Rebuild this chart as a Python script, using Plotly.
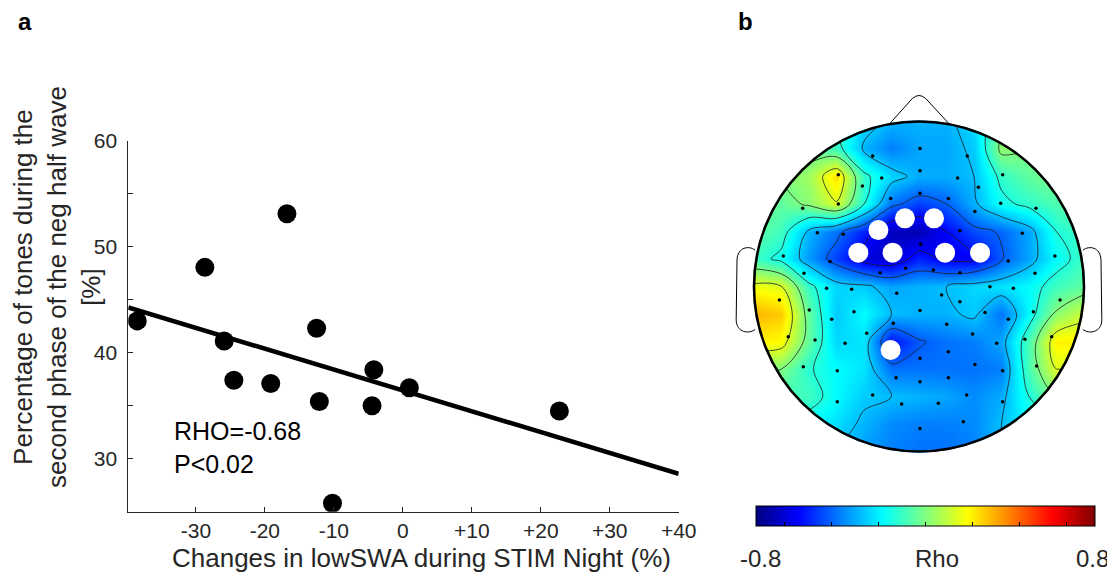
import numpy as np
import plotly.graph_objects as go

# ---------------- data: panel a ----------------
lowswa_change = [-38.5, -28.7, -16.8, -25.9, -24.5, -19.15, -12.5, -12.1, -10.2, -4.2, -4.46, 0.95, 22.7]
tones_pct = [43.0, 48.05, 53.1, 41.1, 37.4, 37.1, 42.3, 35.4, 25.8, 38.4, 35.0, 36.7, 34.5]
x_tickvals = [-30, -20, -10, 0, 10, 20, 30, 40]
x_ticktext = ["-30", "-20", "-10", "0", "+10", "+20", "+30", "+40"]
y_tickvals = [30, 35, 40, 45, 50, 55, 60]
y_ticktext = ["30", "", "40", "", "50", "", "60"]

# ---------------- data: panel b (head units, radius 100) ----------------
electrode_x = [0.6, -28.1, 29.3, 0.6, -48.9, 50.7, -22.6, 23.4, -34.3, 36.0, 0.6, -17.2, 17.8, -48.9, 49.5,
               -70.5, 70.9, 33.9, 24.8, -61.6, -45.9, 62.6, 1.0, -82.2, 82.4, -53.9, 54.1, -69.7, -23.6, -8.1,
               8.7, 24.8, 70.3, -56.0, -40.8, -13.5, 13.7, 43.0, 57.2, -84.6, 85.5, 24.8, -66.5, -39.4, 0.6,
               40.0, 69.3, 54.1, -52.9, -15.6, 16.8, -31.7, 32.5, -79.2, 80.4, -63.0, -44.8, 47.1, 64.2, 0.6,
               17.8, 33.9, -70.1, -49.5, 71.3, 50.7, -13.9, 0.6, 17.8, -28.1, 28.9, -49.5, -10.5, 11.7, 50.7,
               26.9, 0.6]
electrode_y = [83.7, 79.1, 79.1, 70.2, 67.8, 67.8, 65.8, 65.8, 60.9, 60.1, 56.5, 53.4, 53.4, 50.0, 50.4,
               47.4, 47.4, 45.4, 33.8, 32.6, 31.6, 32.2, 25.6, 18.5, 18.5, 15.1, 15.5, 8.0, 8.4, 11.0,
               10.0, 8.4, 8.0, -1.1, -1.7, -4.1, -5.2, -0.1, -1.1, -8.2, -8.2, -9.2, -14.2, -15.3, -14.6,
               -15.7, -15.3, -19.9, -19.9, -22.3, -22.9, -28.4, -28.8, -30.4, -30.4, -32.4, -34.4, -34.4, -32.0, -43.5,
               -39.5, -47.2, -48.6, -51.0, -48.2, -51.0, -55.3, -57.7, -55.3, -65.8, -65.8, -69.8, -71.2, -70.8, -69.8,
               -81.9, -86.0]
sig_x = [-24.6, -8.5, 9.1, -36.8, -16.0, 15.8, 37.0, -17.2]
sig_y = [34.2, 41.3, 41.3, 20.5, 20.5, 20.5, 20.5, -38.5]

grid_x = [-100, -83.3, -66.7, -50, -33.3, -16.7, 0, 16.7, 33.3, 50, 66.7, 83.3, 100]
grid_y = [100, 83.3, 66.7, 50, 33.3, 16.7, 0, -16.7, -33.3, -50, -66.7, -83.3, -100]
rho_grid = [
    [-0.10, -0.10, -0.10, -0.15, -0.25, -0.32, -0.32, -0.32, -0.25, -0.05, 0.00, 0.00, 0.00],
    [-0.05, -0.05, -0.05, -0.10, -0.32, -0.40, -0.34, -0.34, -0.28, 0.03, 0.00, 0.00, 0.00],
    [-0.05, 0.00, 0.05, 0.25, -0.12, -0.26, -0.33, -0.33, -0.30, -0.12, -0.05, 0.00, 0.00],
    [0.00, -0.05, 0.02, 0.14, -0.15, -0.42, -0.50, -0.45, -0.32, -0.18, -0.12, -0.08, 0.00],
    [-0.05, -0.10, -0.32, -0.42, -0.55, -0.70, -0.72, -0.60, -0.48, -0.44, -0.34, -0.15, -0.10],
    [-0.10, -0.18, -0.36, -0.50, -0.65, -0.68, -0.55, -0.62, -0.62, -0.46, -0.34, -0.20, -0.10],
    [0.18, 0.15, -0.12, -0.26, -0.28, -0.34, -0.32, -0.30, -0.26, -0.24, -0.20, -0.10, -0.05],
    [0.32, 0.28, -0.05, -0.28, -0.20, -0.30, -0.32, -0.32, -0.28, -0.42, -0.20, 0.02, 0.12],
    [0.22, 0.20, -0.05, -0.26, -0.24, -0.58, -0.46, -0.42, -0.40, -0.34, -0.08, 0.22, 0.22],
    [0.02, 0.00, -0.14, -0.20, -0.24, -0.42, -0.42, -0.42, -0.42, -0.40, -0.08, 0.15, 0.10],
    [-0.10, -0.10, -0.10, -0.20, -0.28, -0.30, -0.32, -0.34, -0.38, -0.33, -0.15, 0.00, 0.00],
    [-0.15, -0.15, -0.20, -0.25, -0.32, -0.38, -0.40, -0.40, -0.38, -0.30, -0.20, -0.15, -0.10],
    [-0.15, -0.15, -0.20, -0.30, -0.35, -0.40, -0.42, -0.42, -0.40, -0.30, -0.20, -0.15, -0.10],
]
rho_min, rho_max = -0.8, 0.8
contour_start, contour_end, contour_step = -0.6, 0.15, 0.15
cbar_tickvals = [-0.667, -0.444, -0.222, 0.0, 0.222, 0.444, 0.667]

# ---------------- helpers ----------------
W, H = 1115, 576
OX, OY = 8, 8  # page body margin offset compensation

def px(x):
    return (x - OX) / W

def py(y):
    return 1 - (y - OY) / H

FONT = "Liberation Sans, Arial, sans-serif"
TXT = "#262626"

jet = [[0, "rgb(0,0,128)"], [0.125, "rgb(0,0,255)"], [0.375, "rgb(0,255,255)"],
       [0.625, "rgb(255,255,0)"], [0.875, "rgb(255,0,0)"], [1, "rgb(128,0,0)"]]

x_range = [-39.8, 40]
slope, intercept = np.polyfit(lowswa_change, tones_pct, 1)
fit_x = np.array(x_range)
fit_y = slope * fit_x + intercept

fig = go.Figure()

# panel a
fig.add_trace(go.Scatter(x=fit_x, y=fit_y, mode="lines", line=dict(color="black", width=4.5),
                         xaxis="x", yaxis="y", showlegend=False, hoverinfo="skip"))
fig.add_trace(go.Scatter(x=lowswa_change, y=tones_pct, mode="markers",
                         marker=dict(color="black", size=19), xaxis="x", yaxis="y", showlegend=False))

# panel b
fig.add_trace(go.Heatmap(x=grid_x, y=grid_y, z=rho_grid, zmin=rho_min, zmax=rho_max, zsmooth="best",
                         colorscale=jet, xaxis="x2", yaxis="y2",
                         colorbar=dict(orientation="h", lenmode="pixels", len=339, thickness=20,
                                       x=px(925.5), xanchor="center", y=py(530.7), yanchor="bottom",
                                       xpad=0, ypad=0, outlinewidth=1, outlinecolor="black",
                                       showticklabels=False, ticks="inside", ticklen=4,
                                       tickcolor="black", tickvals=cbar_tickvals)))
fig.add_trace(go.Contour(x=grid_x, y=grid_y, z=rho_grid, xaxis="x2", yaxis="y2", showscale=False,
                         contours=dict(coloring="none", start=contour_start, end=contour_end, size=contour_step),
                         line=dict(color="#202020", width=0.8, smoothing=1.0), hoverinfo="skip"))
fig.add_trace(go.Scatter(x=electrode_x, y=electrode_y, mode="markers",
                         marker=dict(color="black", size=3.5), xaxis="x2", yaxis="y2", showlegend=False))
fig.add_trace(go.Scatter(x=sig_x, y=sig_y, mode="markers",
                         marker=dict(color="white", size=20), xaxis="x2", yaxis="y2", showlegend=False))

# mask outside head
theta = np.linspace(0, 2 * np.pi, 181)
circ = " ".join(("M" if i == 0 else "L") + f" {100.6*np.cos(t):.3f},{100.6*np.sin(t):.3f}" for i, t in enumerate(theta)) + " Z"
mask_path = "M -113,-113 L 113,-113 L 113,113 L -113,113 Z " + circ
shapes = [
    dict(type="path", path=mask_path, xref="x2", yref="y2", fillcolor="white", line=dict(width=0),
         fillrule="evenodd", layer="above"),
    dict(type="circle", x0=-100, x1=100, y0=-100, y1=100, xref="x2", yref="y2",
         line=dict(color="black", width=2.6), layer="above"),
    dict(type="path", path="M -18,98.4 L -4,114 Q 0,117.5 4,114 L 18.6,98.2", xref="x2", yref="y2",
         line=dict(color="black", width=1), layer="above"),
    dict(type="path", path="M -99.3,22 C -103,25 -110,24 -110.3,16 L -110.8,-20 C -110.8,-28 -103,-29 -99.3,-26",
         xref="x2", yref="y2", line=dict(color="black", width=1), layer="above"),
    dict(type="path", path="M 99.3,22 C 103,25 110,24 110.3,16 L 110.8,-20 C 110.8,-28 103,-29 99.3,-26",
         xref="x2", yref="y2", line=dict(color="black", width=1), layer="above"),
]

annotations = [
    dict(text="<b>a</b>", x=px(16), y=py(21.6), xanchor="left", yanchor="middle", font=dict(size=24, color="black")),
    dict(text="<b>b</b>", x=px(736), y=py(21.6), xanchor="left", yanchor="middle", font=dict(size=24, color="black")),
    dict(text="RHO=-0.68<br>P&lt;0.02", x=px(172), y=py(447), xanchor="left", yanchor="middle", align="left",
         font=dict(size=25, color="black")),
    dict(text="Changes in lowSWA during STIM Night (%)", x=px(421.5), y=py(557.6), xanchor="center",
         yanchor="middle", font=dict(size=26, color=TXT)),
    dict(text="Percentage of tones during the<br>second phase of the neg half wave<br>[%]", textangle=-90,
         x=px(57), y=py(287), xanchor="center", yanchor="middle", font=dict(size=26, color=TXT)),
    dict(text="-0.8", x=px(760), y=py(558.3), xanchor="center", yanchor="middle", font=dict(size=24, color=TXT)),
    dict(text="Rho", x=px(936.5), y=py(558.3), xanchor="center", yanchor="middle", font=dict(size=24, color=TXT)),
    dict(text="0.8", x=px(1092), y=py(558.3), xanchor="center", yanchor="middle", font=dict(size=24, color=TXT)),
]
for a in annotations:
    a.update(xref="paper", yref="paper", showarrow=False)

fig.update_layout(
    width=W, height=H, margin=dict(l=0, r=0, t=0, b=0, autoexpand=False),
    paper_bgcolor="white", plot_bgcolor="white",
    font=dict(family=FONT, color=TXT),
    showlegend=False,
    xaxis=dict(domain=[px(128.3), px(678.7)], range=x_range, tickvals=x_tickvals, ticktext=x_ticktext,
               showline=True, linecolor=TXT, linewidth=1, ticks="inside", ticklen=5, tickcolor=TXT,
               showgrid=False, zeroline=False, tickfont=dict(size=21, color=TXT), anchor="y"),
    yaxis=dict(domain=[py(511.7), py(140.7)], range=[25, 60], tickvals=y_tickvals, ticktext=y_ticktext,
               showline=True, linecolor=TXT, linewidth=1, ticks="inside", ticklen=5, tickcolor=TXT,
               showgrid=False, zeroline=False, tickfont=dict(size=21, color=TXT), anchor="x",
               ticklabelstandoff=6),
    xaxis2=dict(domain=[px(729.25), px(1108.75)], range=[-115, 115], visible=False, anchor="y2"),
    yaxis2=dict(domain=[py(476.25), py(88.5)], range=[-115, 120], visible=False, anchor="x2"),
    shapes=shapes,
    annotations=annotations,
)

fig.write_html("out.html")
